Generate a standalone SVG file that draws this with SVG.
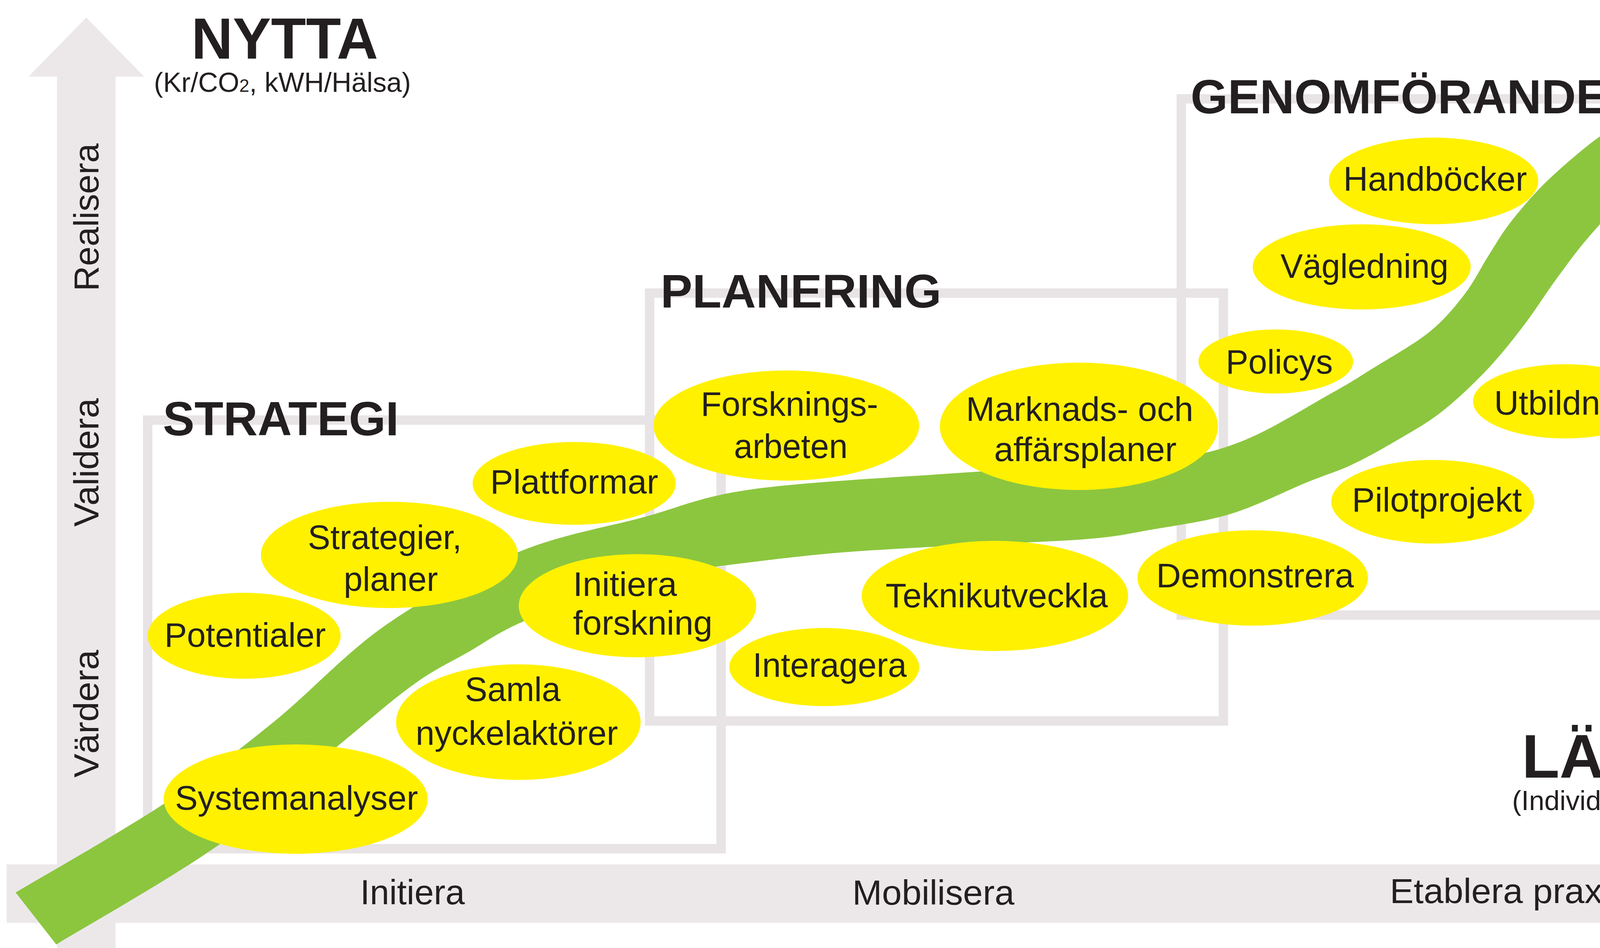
<svg xmlns="http://www.w3.org/2000/svg" width="4865" height="2426" viewBox="0 0 4865 2426">
<style>
.ax{fill:#ece8ea}
.box{fill:none;stroke:#e8e3e5;stroke-width:24}
.node ellipse{fill:#fff100}
.lbl{font-family:"Liberation Sans",Arial,sans-serif;font-size:87px;fill:#231f20}
.ttl{font-family:"Liberation Sans",Arial,sans-serif;font-weight:bold;fill:#231f20}
.axl{font-family:"Liberation Sans",Arial,sans-serif;font-size:89px;fill:#231f20}
</style>
<rect width="4865" height="2426" fill="#ffffff"/>
<g id="axes">
  <polygon class="ax" points="146,2426 146,196 73,196 221,45 369,196 296,196 296,2426"/>
  <polygon class="ax" points="17,2212 4489,2212 4489,2135 4654,2287 4489,2439 4489,2362 17,2362"/>
  <text class="axl" transform="translate(252,745) rotate(-90)" textLength="378" lengthAdjust="spacingAndGlyphs">Realisera</text>
  <text class="axl" transform="translate(252,1348) rotate(-90)" textLength="329" lengthAdjust="spacingAndGlyphs">Validera</text>
  <text class="axl" transform="translate(252,1990) rotate(-90)" textLength="327" lengthAdjust="spacingAndGlyphs">Värdera</text>
  <text class="axl" x="922" y="2314" textLength="268" lengthAdjust="spacingAndGlyphs">Initiera</text>
  <text class="axl" x="2182" y="2315" textLength="415" lengthAdjust="spacingAndGlyphs">Mobilisera</text>
  <text class="axl" x="3558" y="2311" textLength="610" lengthAdjust="spacingAndGlyphs">Etablera praxis</text>
</g>
<g id="phases">
  <rect class="box" x="378" y="1075" width="1468" height="1097"/>
  <rect class="box" x="1663" y="750" width="1469" height="1095"/>
  <rect class="box" x="3024" y="253" width="1311" height="1321"/>
</g>
<g id="connectors">
  <path id="flow" fill="#8cc63f" d="M40,2284 C103.5,2246 311,2128.7 421,2056 C531,1983.3 605.7,1924 700,1848 C794.3,1772 883,1672.3 987,1600 C1091,1527.7 1214.2,1460 1324,1414 C1433.8,1368 1545.5,1351 1646,1324 C1746.5,1297 1789.2,1271.2 1927,1252 C2064.8,1232.8 2302.5,1221.3 2473,1209 C2643.5,1196.7 2833.5,1190.8 2950,1178 C3066.5,1165.2 3096.7,1160 3172,1132 C3247.3,1104 3344.5,1041.8 3402,1010 C3459.5,978.2 3474,967.8 3517,941 C3560,914.2 3621.2,880.5 3660,849 C3698.8,817.5 3725,784.3 3750,752 C3775,719.7 3790,686.2 3810,655 C3830,623.8 3844.2,597.7 3870,565 C3895.8,532.3 3926.2,495.8 3965,459 C4003.8,422.2 4061.2,372.7 4103,344 C4144.8,315.3 4170,308 4216,287 C4262,266 4351.8,229.5 4379,218 L4335,108 L4698,192 L4491,508 L4441,379 C4424.2,383.3 4371.8,393.2 4340,405 C4308.2,416.8 4281.7,430.8 4250,450 C4218.3,469.2 4181.7,492.5 4150,520 C4118.3,547.5 4088.3,581.7 4060,615 C4031.7,648.3 4006.7,683.5 3980,720 C3953.3,756.5 3929.3,795.8 3900,834 C3870.7,872.2 3839.2,912.2 3804,949 C3768.8,985.8 3727.3,1025.2 3689,1055 C3650.7,1084.8 3612.3,1105.5 3574,1128 C3535.7,1150.5 3497.3,1172.2 3459,1190 C3420.7,1207.8 3395.3,1214.2 3344,1235 C3292.7,1255.8 3216.7,1295 3151,1315 C3085.3,1335 3012.5,1344.2 2950,1355 C2887.5,1365.8 2865.7,1372.8 2776,1380 C2686.3,1387.2 2533.3,1390.7 2412,1398 C2290.7,1405.3 2183.3,1408.7 2048,1424 C1912.7,1439.3 1718.7,1462 1600,1490 C1481.3,1518 1402.7,1562.3 1336,1592 C1269.3,1621.7 1245.8,1641.7 1200,1668 C1154.2,1694.3 1115.7,1710.8 1061,1750 C1006.3,1789.2 955,1834.7 872,1903 C789,1971.3 684.3,2074.3 563,2160 C441.7,2245.7 213.8,2374.2 144,2417 Z"/>
</g>
<g id="titles">
  <text class="ttl" x="490" y="150" font-size="148" textLength="478" lengthAdjust="spacingAndGlyphs">NYTTA</text>
  <text class="lbl" x="394" y="235" style="font-size:70px" textLength="658" lengthAdjust="spacingAndGlyphs">(Kr/CO<tspan style="font-size:46px">2</tspan>, kWH/Hälsa)</text>
  <text class="ttl" x="417" y="1114" font-size="122" textLength="604" lengthAdjust="spacingAndGlyphs">STRATEGI</text>
  <text class="ttl" x="1691" y="787" font-size="121" textLength="719" lengthAdjust="spacingAndGlyphs">PLANERING</text>
  <text class="ttl" x="3048" y="290" font-size="123" textLength="1068" lengthAdjust="spacingAndGlyphs">GENOMFÖRANDE</text>
  <text class="ttl" x="3896" y="1990" font-size="157" textLength="771" lengthAdjust="spacingAndGlyphs">LÄRANDE</text>
  <text class="lbl" x="3871" y="2073" style="font-size:71px" textLength="821" lengthAdjust="spacingAndGlyphs">(Individ, Grupp, Samhälle)</text>
</g>
<g id="n-systemanalyser" class="node"><ellipse cx="757" cy="2045" rx="338" ry="140"/><text class="lbl" x="448" y="2072" textLength="622" lengthAdjust="spacingAndGlyphs">Systemanalyser</text></g>
<g id="n-potentialer" class="node"><ellipse cx="625" cy="1627" rx="247" ry="110"/><text class="lbl" x="421" y="1655" textLength="413" lengthAdjust="spacingAndGlyphs">Potentialer</text></g>
<g id="n-strategier" class="node"><ellipse cx="997" cy="1420" rx="329" ry="136"/><text class="lbl" x="788" y="1405" textLength="394" lengthAdjust="spacingAndGlyphs">Strategier,</text><text class="lbl" x="880" y="1512" textLength="241" lengthAdjust="spacingAndGlyphs">planer</text></g>
<g id="n-samla" class="node"><ellipse cx="1327" cy="1848" rx="313" ry="148"/><text class="lbl" x="1190" y="1794" textLength="245" lengthAdjust="spacingAndGlyphs">Samla</text><text class="lbl" x="1064" y="1906" textLength="518" lengthAdjust="spacingAndGlyphs">nyckelaktörer</text></g>
<g id="n-plattformar" class="node"><ellipse cx="1470" cy="1237" rx="260" ry="106"/><text class="lbl" x="1255" y="1263" textLength="430" lengthAdjust="spacingAndGlyphs">Plattformar</text></g>
<g id="n-forskningsarbeten" class="node"><ellipse cx="2013" cy="1089" rx="340" ry="141"/><text class="lbl" x="1794" y="1064" textLength="454" lengthAdjust="spacingAndGlyphs">Forsknings-</text><text class="lbl" x="1879" y="1172" textLength="291" lengthAdjust="spacingAndGlyphs">arbeten</text></g>
<g id="n-marknads" class="node"><ellipse cx="2762" cy="1091" rx="356" ry="163"/><text class="lbl" x="2473" y="1077" textLength="582" lengthAdjust="spacingAndGlyphs">Marknads- och</text><text class="lbl" x="2545" y="1180" textLength="467" lengthAdjust="spacingAndGlyphs">affärsplaner</text></g>
<g id="n-initiera" class="node"><ellipse cx="1632" cy="1550" rx="304" ry="132"/><text class="lbl" x="1467" y="1525" textLength="266" lengthAdjust="spacingAndGlyphs">Initiera</text><text class="lbl" x="1467" y="1624" textLength="357" lengthAdjust="spacingAndGlyphs">forskning</text></g>
<g id="n-interagera" class="node"><ellipse cx="2110" cy="1707" rx="243" ry="100"/><text class="lbl" x="1927" y="1732" textLength="394" lengthAdjust="spacingAndGlyphs">Interagera</text></g>
<g id="n-teknikutveckla" class="node"><ellipse cx="2547" cy="1525" rx="341" ry="141"/><text class="lbl" x="2267" y="1554" textLength="569" lengthAdjust="spacingAndGlyphs">Teknikutveckla</text></g>
<g id="n-demonstrera" class="node"><ellipse cx="3207" cy="1479" rx="295" ry="122"/><text class="lbl" x="2960" y="1503" textLength="506" lengthAdjust="spacingAndGlyphs">Demonstrera</text></g>
<g id="n-pilotprojekt" class="node"><ellipse cx="3668" cy="1284" rx="260" ry="107"/><text class="lbl" x="3461" y="1309" textLength="435" lengthAdjust="spacingAndGlyphs">Pilotprojekt</text></g>
<g id="n-utbildning" class="node"><ellipse cx="4007" cy="1027" rx="236" ry="95"/><text class="lbl" x="3825" y="1061" textLength="388" lengthAdjust="spacingAndGlyphs">Utbildning</text></g>
<g id="n-policys" class="node"><ellipse cx="3266" cy="925" rx="198" ry="82"/><text class="lbl" x="3138" y="956" textLength="274" lengthAdjust="spacingAndGlyphs">Policys</text></g>
<g id="n-vagledning" class="node"><ellipse cx="3486" cy="683" rx="279" ry="109"/><text class="lbl" x="3278" y="711" textLength="430" lengthAdjust="spacingAndGlyphs">Vägledning</text></g>
<g id="n-handbocker" class="node"><ellipse cx="3670" cy="463" rx="268" ry="111"/><text class="lbl" x="3439" y="488" textLength="470" lengthAdjust="spacingAndGlyphs">Handböcker</text></g>
<g id="n-projekt" class="node"><ellipse cx="4181" cy="602" rx="65" ry="27"/><text class="lbl" x="4138" y="611" style="font-size:26px" textLength="80" lengthAdjust="spacingAndGlyphs">Projekt</text></g>
<g id="n-praxis"><text class="lbl" x="4489" y="405" style="font-size:85px" textLength="316" lengthAdjust="spacingAndGlyphs">PRAXIS</text></g>
</svg>
